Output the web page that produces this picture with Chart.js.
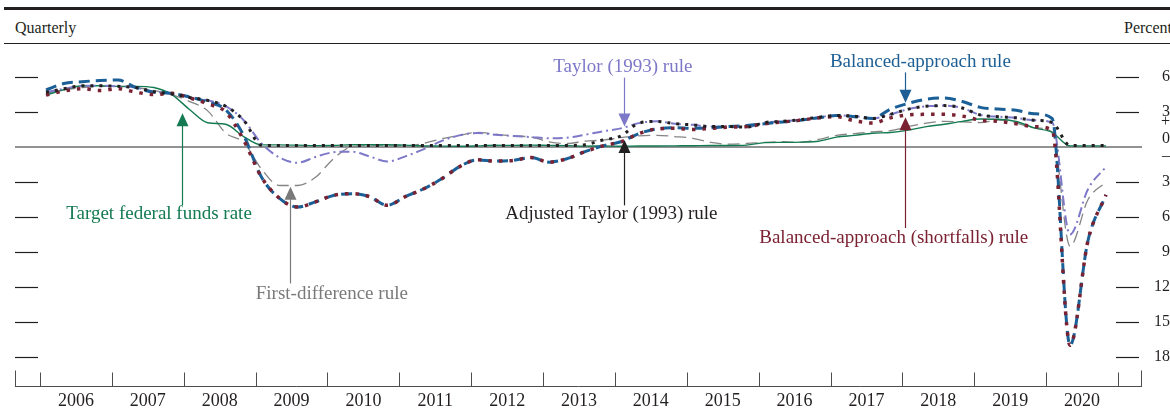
<!DOCTYPE html>
<html>
<head>
<meta charset="utf-8">
<script src="https://cdn.jsdelivr.net/npm/chart.js@4.4.0/dist/chart.umd.min.js"></script>
<style>
    html, body { margin: 0; padding: 0; background: #fff; }
    #wrap { position: relative; width: 1170px; height: 410px; overflow: hidden; font-family: "Liberation Serif", serif; color: #231f20; }
    #topRule { position: absolute; left: 4px; right: 0; top: 7px; border-top: 3px solid #231f20; }
    #subRule { position: absolute; left: 4px; right: 0; top: 43px; border-top: 1px solid #231f20; }
    .hdr { position: absolute; top: 18px; font-size: 16px; line-height: 20px; white-space: nowrap; }
    canvas { position: absolute; left: 0; top: 0; }
</style>
</head>
<body>
<div id="wrap">
    <div id="topRule"></div>
    <div class="hdr" style="left:15px">Quarterly</div>
    <div class="hdr" style="left:1124px">Percent</div>
    <div id="subRule"></div>
    <canvas id="myChart" width="1170" height="410"></canvas>
</div>
<script>
// quarterly data, 2006:Q1 - 2020:Q4
const years = [2006, 2007, 2008, 2009, 2010, 2011, 2012, 2013, 2014, 2015, 2016, 2017, 2018, 2019, 2020];

const fedFunds = [
    4.46, 4.91, 5.25, 5.25,  5.2, 5.2, 5.1, 4.5,  3.2, 2.08, 1.95, 0.9,
    0.18, 0.18, 0.16, 0.12,  0.13, 0.19, 0.19, 0.19,  0.16, 0.09, 0.08, 0.07,
    0.10, 0.15, 0.14, 0.16,  0.14, 0.12, 0.08, 0.09,  0.07, 0.09, 0.09, 0.10,
    0.11, 0.13, 0.13, 0.16,  0.38, 0.40, 0.42, 0.50,  0.85, 1.0, 1.18, 1.25,
    1.45, 1.75, 1.95, 2.2,  2.4, 2.38, 2.19, 1.64,  1.26, 0.1, 0.1, 0.1
];
const taylor = [
    4.7, 5.0, 5.25, 5.25,  5.2, 5.1, 4.75, 4.55,  4.25, 4.0, 3.5, 2.3,
    0.3, -0.9, -1.35, -0.85,  -0.45, -0.4, -0.8, -1.25,  -0.8, -0.2, 0.5, 1.0,
    1.2, 1.05, 0.95, 0.85,  0.75, 0.8, 1.05, 1.35,  1.6, 2.05, 2.2, 2.0,
    1.9, 1.75, 1.75, 1.7,  2.1, 2.2, 2.35, 2.55,  2.7, 2.65, 2.45, 2.8,
    3.25, 3.5, 3.55, 3.35,  2.75, 2.6, 2.5, 2.3,  2.1, -7.5, -3.6, -1.7
];
const adjTaylor = [
    4.7, 5.0, 5.25, 5.25,  5.2, 5.1, 4.75, 4.55,  4.25, 4.0, 3.5, 2.3,
    0.15, 0.13, 0.13, 0.13,  0.13, 0.13, 0.13, 0.13,  0.13, 0.13, 0.13, 0.13,
    0.13, 0.13, 0.13, 0.13,  0.13, 0.13, 0.2, 0.6,  0.95, 2.05, 2.2, 2.0,
    1.9, 1.75, 1.75, 1.7,  2.1, 2.2, 2.35, 2.55,  2.7, 2.65, 2.45, 2.8,
    3.25, 3.5, 3.55, 3.35,  2.75, 2.6, 2.5, 2.3,  2.1, 0.13, 0.13, 0.13
];
const balanced = [
    4.9, 5.45, 5.6, 5.7,  5.75, 5.1, 4.7, 4.6,  4.3, 3.85, 3.2, 1.0,
    -2.6, -4.4, -5.15, -4.7,  -4.15, -4.0, -4.25, -5.0,  -4.25, -3.6, -2.75, -1.7,
    -1.1, -1.2, -1.15, -0.9,  -1.3, -1.0, -0.4, 0.1,  0.45, 1.15, 1.55, 1.65,
    1.6, 1.65, 1.75, 1.85,  2.0, 2.15, 2.3, 2.5,  2.7, 2.6, 2.45, 3.25,
    3.75, 4.1, 4.2, 3.9,  3.4, 3.25, 3.15, 2.85,  2.45, -17.0, -8.0, -4.1
];
const shortfalls = [
    4.45, 4.8, 5.0, 4.85,  5.0, 4.7, 4.5, 4.6,  4.2, 3.7, 3.0, 0.6,
    -2.6, -4.4, -5.15, -4.7,  -4.15, -4.0, -4.25, -5.0,  -4.25, -3.6, -2.75, -1.7,
    -1.1, -1.2, -1.15, -0.9,  -1.3, -1.0, -0.4, 0.1,  0.45, 1.15, 1.55, 1.6,
    1.5, 1.6, 1.7, 1.75,  2.0, 2.15, 2.3, 2.5,  2.6, 2.25, 2.05, 2.5,
    2.75, 2.8, 2.8, 2.65,  2.3, 2.2, 2.0, 1.75,  1.45, -17.0, -8.0, -4.1
];
const firstDiff = [
    4.6, 4.9, 5.1, 5.2,  5.2, 5.1, 4.85, 4.5,  3.9, 3.1, 1.2, 0.4,
    -1.9, -3.3, -3.3, -2.6,  -1.0, 0.0, 0.1, 0.1,  0.1, 0.3, 0.7, 1.0,
    1.25, 1.1, 0.95, 0.85,  0.45, 0.3, 0.5, 0.6,  0.8, 0.95, 1.0, 0.9,
    0.75, 0.4, 0.25, 0.3,  0.4, 0.45, 0.4, 0.65,  1.0, 1.15, 1.3, 1.4,
    1.75, 2.05, 2.2, 2.15,  2.1, 2.3, 2.05, 1.65,  1.3, -8.5, -4.5, -3.0
];

const yTicks = [6, 3, 0, -3, -6, -9, -12, -15, -18];
const yTickLabels = ["6", "3", ["+", "0", "\u2013", ""], "3", "6", "9", "12", "15", "18"];

// one date per quarter (year fraction)
const quarterDates = [];
years.forEach((yr) => {
    [0, 1, 2, 3].forEach((q) => quarterDates.push(yr + q / 4 + 1 / 12));
});

function pontos(valores) {
    return valores.map((v, i) => ({ x: quarterDates[i], y: v }));
}

// labels with arrows, placed in data units
const notas = [
    { text: "Target federal funds rate", color: "#147a52", tx: 2007.656, ty: -5.74, ax: 2007.976, from: -5.0, to: 2.9 },
    { text: "First-difference rule", color: "#7a7a7a", tx: 2010.06, ty: -12.6, ax: 2009.48, from: -11.7, to: -3.4 },
    { text: "Taylor (1993) rule", color: "#7d78c8", tx: 2014.11, ty: 6.86, ax: 2014.126, from: 5.95, to: 1.75 },
    { text: "Adjusted Taylor (1993) rule", color: "#231f20", tx: 2013.95, ty: -5.74, ax: 2014.126, from: -5.0, to: 0.6 },
    { text: "Balanced-approach rule", color: "#1d5f94", tx: 2018.25, ty: 7.29, ax: 2018.036, from: 6.4, to: 3.8 },
    { text: "Balanced-approach (shortfalls) rule", color: "#7b2232", tx: 2017.88, ty: -7.8, ax: 2018.036, from: -6.95, to: 2.55 },
];

function linha(ctx, x1, y1, x2, y2) {
    ctx.beginPath();
    ctx.moveTo(x1, y1);
    ctx.lineTo(x2, y2);
    ctx.stroke();
}

const moldura = {
    id: "moldura",
    beforeDatasetsDraw(chart) {
        const { ctx, chartArea: a, scales } = chart;
        const x = scales.x, y = scales.y;
        ctx.save();
        // zero line
        ctx.strokeStyle = "#6d6e71";
        ctx.lineWidth = 1.5;
        const y0 = y.getPixelForValue(0);
        linha(ctx, a.left, y0, a.right, y0);
        // side ticks
        ctx.strokeStyle = "#231f20";
        ctx.lineWidth = 1.2;
        yTicks.forEach((v) => {
            if (v === 0) return;
            const py = Math.round(y.getPixelForValue(v)) + 0.5;
            linha(ctx, a.left, py, a.left + 23, py);
            linha(ctx, a.right - 26, py, a.right - 3, py);
        });
        // bottom axis with year marks
        ctx.strokeStyle = "#4d4d4f";
        ctx.lineWidth = 1;
        const by = Math.round(a.bottom) + 0.5;
        linha(ctx, a.left, by, a.right, by);
        const marcas = years.concat([years[years.length - 1] + 1]);
        marcas.forEach((yr) => {
            const px = Math.round(x.getPixelForValue(yr)) + 0.5;
            linha(ctx, px, by, px, by - 14);
        });
        linha(ctx, a.left + 0.5, by, a.left + 0.5, by - 16);
        linha(ctx, a.right - 0.5, by, a.right - 0.5, by - 16);
        ctx.restore();
    },
    afterDatasetsDraw(chart) {
        const { ctx, scales } = chart;
        const x = scales.x, y = scales.y;
        ctx.save();
        ctx.font = '19px "Liberation Serif"';
        ctx.textAlign = "center";
        ctx.textBaseline = "middle";
        notas.forEach((n) => {
            ctx.fillStyle = n.color;
            ctx.fillText(n.text, x.getPixelForValue(n.tx), y.getPixelForValue(n.ty));
            const ax = Math.round(x.getPixelForValue(n.ax)) + 0.5;
            const y1 = y.getPixelForValue(n.from);
            const y2 = y.getPixelForValue(n.to);
            const dir = y2 < y1 ? -1 : 1;
            ctx.strokeStyle = n.color;
            ctx.lineWidth = 1.2;
            linha(ctx, ax, y1, ax, y2 - dir * 10);
            ctx.beginPath();
            ctx.moveTo(ax, y2);
            ctx.lineTo(ax - 6, y2 - dir * 13);
            ctx.lineTo(ax + 6, y2 - dir * 13);
            ctx.closePath();
            ctx.fill();
        });
        ctx.restore();
    },
};

const ctx = document.getElementById("myChart").getContext("2d");

const myChart = new Chart(ctx, {
    type: "line",
    data: {
        datasets: [
            {
                label: "Adjusted Taylor (1993) rule",
                data: pontos(adjTaylor),
                borderColor: "#231f20",
                borderWidth: 3,
                borderDash: [3, 6],
                order: 0,
            },
            {
                label: "Balanced-approach (shortfalls) rule",
                data: pontos(shortfalls),
                borderColor: "#7b2232",
                borderWidth: 3.5,
                borderDash: [3.5, 7],
                order: 1,
            },
            {
                label: "Balanced-approach rule",
                data: pontos(balanced),
                borderColor: "#1a5f96",
                borderWidth: 3,
                borderDash: [11, 6],
                order: 2,
            },
            {
                label: "Taylor (1993) rule",
                data: pontos(taylor),
                borderColor: "#7d78c8",
                borderWidth: 2,
                borderDash: [10, 4, 2, 4],
                order: 3,
            },
            {
                label: "Target federal funds rate",
                data: pontos(fedFunds),
                borderColor: "#147a52",
                borderWidth: 1.4,
                order: 4,
            },
            {
                label: "First-difference rule",
                data: pontos(firstDiff),
                borderColor: "#858585",
                borderWidth: 1.3,
                borderDash: [12, 6],
                order: 5,
            },
        ],
    },
    options: {
        responsive: false,
        animation: false,
        layout: {
            padding: { left: 15, top: 48, right: 0, bottom: 0 },
        },
        elements: {
            point: { radius: 0 },
            line: { cubicInterpolationMode: "monotone", fill: false },
        },
        plugins: {
            legend: { display: false },
            tooltip: { enabled: false },
        },
        scales: {
            x: {
                type: "linear",
                min: 2005.652,
                max: 2021.334,
                grid: { display: false, drawTicks: false },
                border: { display: false },
                afterBuildTicks: (s) => {
                    s.ticks = years.map((yr) => ({ value: yr + 0.5 }));
                },
                afterFit: (s) => {
                    s.height = 24;
                },
                ticks: {
                    autoSkip: false,
                    maxRotation: 0,
                    padding: 4,
                    color: "#231f20",
                    font: { family: "Liberation Serif", size: 18 },
                    callback: (v, i) => String(years[i]),
                },
            },
            y: {
                position: "right",
                min: -20.49,
                max: 8.49,
                grid: { display: false, drawTicks: false },
                border: { display: false },
                afterBuildTicks: (s) => {
                    s.ticks = yTicks.map((v) => ({ value: v }));
                },
                afterFit: (s) => {
                    s.width = 28;
                },
                ticks: {
                    autoSkip: false,
                    padding: 10,
                    crossAlign: "far",
                    color: "#231f20",
                    font: { family: "Liberation Serif", size: 16, lineHeight: 1.05 },
                    callback: (v, i) => yTickLabels[i],
                },
            },
        },
    },
    plugins: [moldura],
});
</script>
</body>
</html>
